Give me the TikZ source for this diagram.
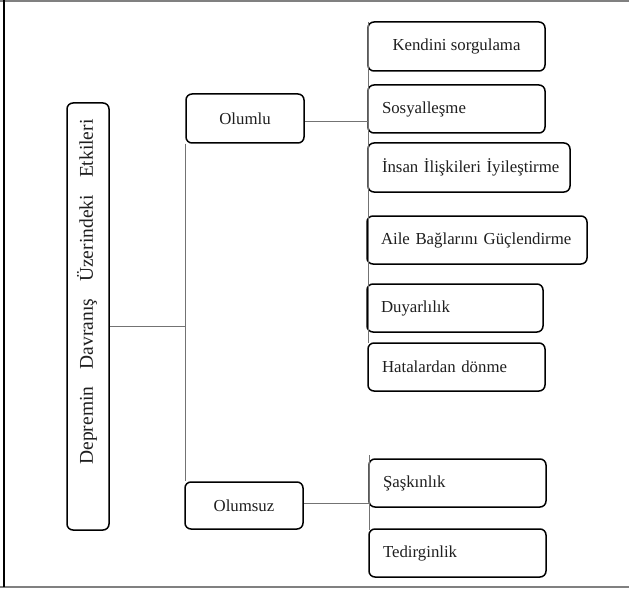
\documentclass[tikz,border=0pt]{standalone}
\usepackage{fontspec}
\setmainfont{Liberation Serif}
\begin{document}
\begin{tikzpicture}[x=1pt,y=-1pt,
  box/.style={draw=black, line width=1.5pt, rounded corners=6pt, fill=white,
    inner sep=0pt, text=black!88, font=\fontsize{16.8}{18}\selectfont},
  lbox/.style={box, align=left, inner xsep=14pt},
  cbox/.style={box, align=center},
  conn/.style={draw=black!55, line width=0.8pt},
  frameline/.style={draw=black!50, line width=1.6pt}]
\useasboundingbox (0,0) rectangle (629,591);
\fill[white] (0,0) rectangle (629,591);
% frame
\draw[frameline] (0,1) -- (629,1);
\draw[frameline, line width=2.2pt] (0,587) -- (629,587);
\draw[draw=black, line width=1.4pt] (4,0) -- (4,587);

% main box
\node[box, minimum width=42pt, minimum height=427pt] (L) at (88,316.5) {};
\node[rotate=90, text=black!88, font=\fontsize{19.5}{21}\selectfont, inner sep=0pt] (Lt) at (87,292)
  {\makebox[345pt][s]{Depremin Davranış Üzerindeki Etkileri}};

% second level
\node[cbox, minimum width=118pt, minimum height=49pt] (ol) at (245,118.5) {Olumlu};
\node[cbox, minimum width=118pt, minimum height=47pt] (os) at (244,505.5) {Olumsuz};

% third level - positive
\node[cbox, minimum width=177pt, minimum height=49pt] (k) at (456.5,46.5) {Kendini sorgulama};
\node[lbox, text width=149pt, minimum height=48pt] (so) at (456.5,109) {Sosyalleşme};
\node[lbox, text width=174pt, minimum height=49pt] (in) at (469,167.5) {\mbox{İnsan İlişkileri İyileştirme}};
\node[lbox, text width=192pt, minimum height=48pt] (ai) at (477,240) {\mbox{Aile Bağlarını Güçlendirme}};
\node[lbox, text width=148pt, minimum height=48pt] (du) at (455,308) {Duyarlılık};
\node[lbox, text width=149pt, minimum height=48pt] (ha) at (456.5,367) {Hatalardan dönme};

% third level - negative
\node[lbox, text width=149pt, minimum height=48pt] (sa) at (457.5,483) {Şaşkınlık};
\node[lbox, text width=149pt, minimum height=48pt] (te) at (457.5,553) {Tedirginlik};

% connectors
\coordinate (j1) at (185.5,326);
\coordinate (j2) at (368,121);
\coordinate (j3) at (369,503);
\coordinate (j2top) at (368,22);
\coordinate (j2bot) at (368,343);
\coordinate (j3top) at (369,455);
\coordinate (j3bot) at (369,530);

\draw[conn] (L.east |- j1) -- (j1);
\draw[conn] (ol.south -| j1) -- (os.north -| j1);
\draw[conn] (ol.east |- j2) -- (j2);
\draw[conn] (j2top) -- (j2bot);
\draw[conn] (os.east |- j3) -- (j3);
\draw[conn] (j3top) -- (j3bot);
\end{tikzpicture}
\end{document}
